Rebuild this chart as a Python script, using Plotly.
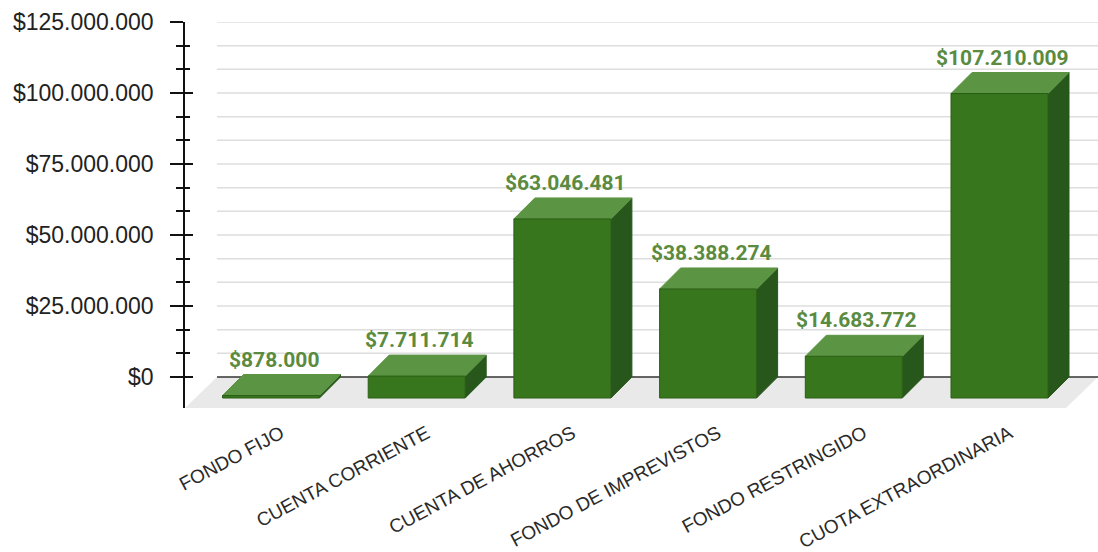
import plotly.graph_objects as go

# ---- data ----
categories = ["FONDO FIJO", "CUENTA CORRIENTE", "CUENTA DE AHORROS",
              "FONDO DE IMPREVISTOS", "FONDO RESTRINGIDO", "CUOTA EXTRAORDINARIA"]
values = [878000, 7711714, 63046481, 38388274, 14683772, 107210009]
y_tick_values = [0, 25000000, 50000000, 75000000, 100000000, 125000000]
y_tick_labels = ["$0", "$25.000.000", "$50.000.000", "$75.000.000",
                 "$100.000.000", "$125.000.000"]

# ---- page / plot geometry (pixels) ----
W, H = 1098, 552
M_L, M_R, M_T, M_B = 185, 0, 22, 144
PW, PH = W - M_L - M_R, H - M_T - M_B
Y_MAX = 125000000
ZERO_PX = 31                      # zero line height above the plot bottom
VAL_PER_PX = Y_MAX / (PH - ZERO_PX)
CAT_PX = 145.7                    # pixels per category step
FIRST_CENTER_PX = 86              # first bar centre from the left edge
X_MIN = -FIRST_CENTER_PX / CAT_PX
X_MAX = X_MIN + PW / CAT_PX
Y_MIN = -ZERO_PX * VAL_PER_PX

BAR_DEPTH_PX = 21
DX = BAR_DEPTH_PX / CAT_PX
DY = BAR_DEPTH_PX * VAL_PER_PX
HALF_W = 48.5 / CAT_PX
FLOOR_DX_PX, FLOOR_DY_PX = 32, 30

FRONT = "#38761d"
TOP = "#5b9443"
SIDE = "#27571a"
EDGE = "#2b5e16"
LABEL_GREEN = "#5a8b40"


def money(v):
    return "$" + f"{v:,}".replace(",", ".")


fig = go.Figure()


def face(xs, ys, color, line_color=None):
    fig.add_trace(go.Scatter(
        x=xs + [xs[0]], y=ys + [ys[0]], mode="lines", fill="toself",
        fillcolor=color, line=dict(color=line_color or color, width=1),
        hoverinfo="skip", showlegend=False))


# 3D bars: front face sits one depth step in front of the value plane
for i, v in enumerate(values):
    x0, x1 = i - HALF_W, i + HALF_W
    base, top = -DY, v - DY
    face([x1, x1 + DX, x1 + DX, x1], [base, 0, v, top], SIDE)
    face([x0, x1, x1 + DX, x0 + DX], [top, top, v, v], TOP)
    face([x0, x1, x1, x0], [base, base, top, top], FRONT, EDGE)

# value labels above each bar
for i, v in enumerate(values):
    fig.add_annotation(
        x=i + 3 / CAT_PX, y=v, text=money(v), showarrow=False,
        yanchor="bottom", yshift=1,
        font=dict(family="Roboto", size=21, color=LABEL_GREEN, weight="bold"))

# helper trace so the inner tick axis is rendered
fig.add_trace(go.Scatter(x=[None], y=[None], yaxis="y2", showlegend=False,
                         hoverinfo="skip"))

# floor and back-plane grid
back_x0 = FLOOR_DX_PX / PW
zero_paper = ZERO_PX / PH
shapes = [dict(
    type="path", xref="paper", yref="paper", layer="below",
    path=(f"M 0,0 L {back_x0},{zero_paper} L 1,{zero_paper} "
          f"L {1 - back_x0},0 Z"),
    fillcolor="#e9e9e9", line=dict(width=0))]
minor_vals = []
for k in range(1, 16):
    gv = k * Y_MAX / 15
    if k % 3:
        minor_vals.append(gv)
    shapes.append(dict(type="line", xref="paper", yref="y", layer="below",
                       x0=back_x0, x1=1, y0=gv, y1=gv,
                       line=dict(color="#dedede", width=1.5)))
shapes.append(dict(type="line", xref="paper", yref="y", layer="below",
                   x0=back_x0, x1=1, y0=0, y1=0,
                   line=dict(color="#333333", width=1.5)))

tick_font = dict(family="Liberation Sans, Arial", size=23, color="#222222")

fig.update_layout(
    width=W, height=H,
    margin=dict(l=M_L, r=M_R, t=M_T, b=M_B, pad=0),
    paper_bgcolor="white", plot_bgcolor="rgba(0,0,0,0)",
    shapes=shapes,
    showlegend=False,
    hovermode=False,
    xaxis=dict(
        range=[X_MIN, X_MAX], tickmode="array",
        tickvals=[i + 10 / CAT_PX for i in range(len(categories))],
        ticktext=categories, tickangle=-28,
        tickfont=dict(family="Liberation Sans, Arial", size=19, color="#2a2a2a"),
        ticks="", showgrid=False, zeroline=False, showline=False,
        ticklabelstandoff=10, fixedrange=True),
    yaxis=dict(
        range=[Y_MIN, Y_MAX], tickmode="array",
        tickvals=y_tick_values, ticktext=y_tick_labels, tickfont=tick_font,
        ticks="outside", ticklen=13, tickwidth=1.5, tickcolor="#111111",
        minor=dict(tickmode="array", tickvals=minor_vals, ticks="outside",
                   ticklen=7, tickwidth=1.5, tickcolor="#111111"),
        showline=True, linecolor="#111111", linewidth=1.5,
        showgrid=False, zeroline=False, ticklabelstandoff=12, fixedrange=True),
    yaxis2=dict(
        range=[Y_MIN, Y_MAX], overlaying="y", side="left", anchor="x",
        tickmode="array", tickvals=y_tick_values, showticklabels=False,
        ticks="inside", ticklen=8, tickwidth=1.5, tickcolor="#111111",
        minor=dict(tickmode="array", tickvals=minor_vals, ticks="inside",
                   ticklen=5, tickwidth=1.5, tickcolor="#111111"),
        showline=False, showgrid=False, zeroline=False, fixedrange=True),
)

fig.write_html("out.html")
